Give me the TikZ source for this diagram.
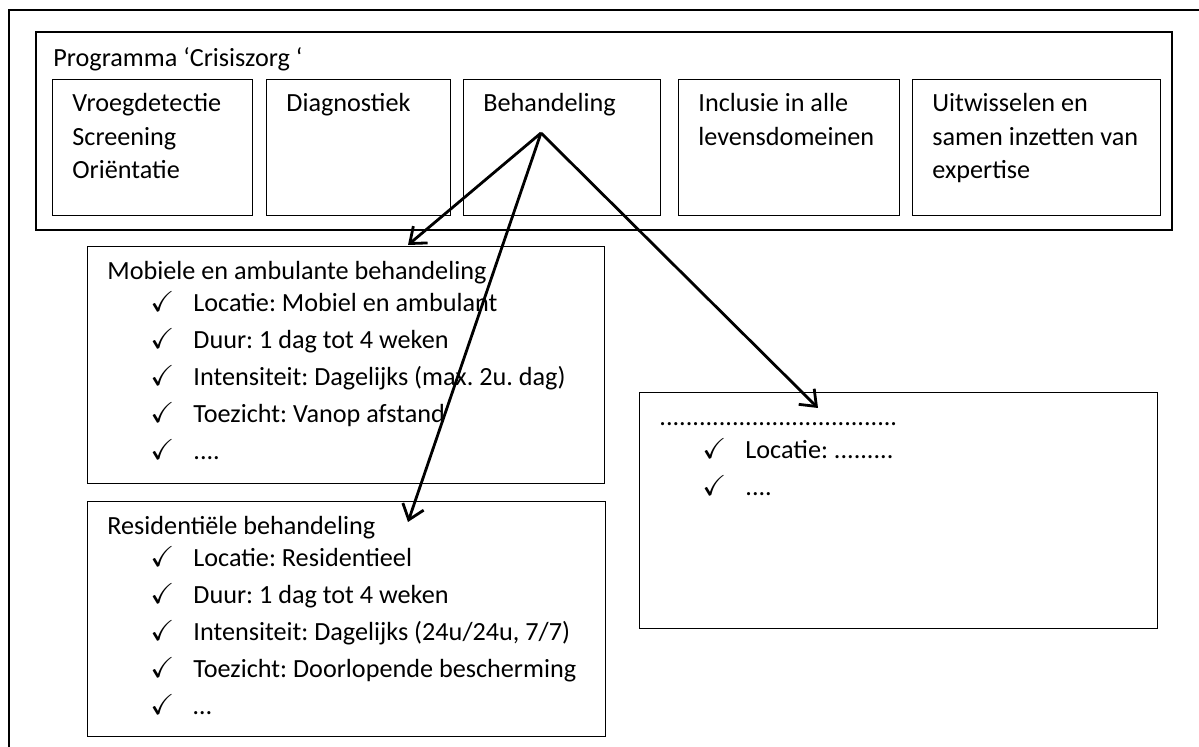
\documentclass[tikz,border=0pt]{standalone}
\usepackage{amssymb}
\usepackage{fontspec}
\setmainfont{Carlito}
\usepackage{tikz}
\usetikzlibrary{arrows.meta}
\frenchspacing

\newcommand{\boxfont}{\fontsize{13.1pt}{16.75pt}\selectfont}
\newcommand{\listfont}{\fontsize{13.1pt}{18.5pt}\selectfont}
\newcommand{\chk}{\makebox[21.5pt][l]{\scalebox{1.1}{$\checkmark$}}}

\begin{document}
\begin{tikzpicture}[x=0.5pt, y=-0.5pt,
    box/.style={draw, line width=0.65pt, anchor=north west, inner sep=0pt},
    txt/.style={anchor=base west, inner sep=0pt, align=left, font=\boxfont},
    conn/.style={-{Straight Barb[length=7pt,width=11pt]}, line width=1.4pt}]
    \useasboundingbox (0,0) rectangle (1199,747);

    % Outer frame (runs off the page)
    \draw[line width=1pt] (1199,10) -- (9,10) -- (9,747);

    % Programma box with title
    \node[box, line width=0.9pt, minimum width=568pt, minimum height=99pt] (prog) at (35,31) {};
    \node[txt] (prog-t) at (53,67) {Programma ‘Crisiszorg ‘};

    % Five boxes of the programma (text placed at the baseline of its last line)
    \foreach \n/\xa/\w/\yb/\txt in {vroeg/52/100/179/{Vroegdetectie\\Screening\\Oriëntatie},
        diag/266/92/112/{Diagnostiek}, behan/463/98.5/112/{Behandeling},
        incl/678/110.5/145.5/{Inclusie in alle\\levensdomeinen},
        uitw/912/124/179/{Uitwisselen en\\samen inzetten van\\expertise}} {
      \node[box, minimum width=\w pt, minimum height=68pt] (\n) at (\xa,79) {};
      \node[txt] (\n-t) at (\xa+20,\yb) {\txt};
    }

    % Behandeling boxes
    \node[box, minimum width=258.5pt, minimum height=118.5pt] (mob) at (87,246) {};
    \node[txt] (mob-t) at (107,280) {Mobiele en ambulante behandeling};
    \node[txt, font=\listfont] (mob-l) at (150,460) {\chk Locatie: Mobiel en ambulant\\
      \chk Duur: 1 dag tot 4 weken\\
      \chk Intensiteit: Dagelijks (max. 2u. dag)\\
      \chk Toezicht: Vanop afstand\\
      \chk ....};

    \node[box, minimum width=259pt, minimum height=117.5pt] (resi) at (87,501) {};
    \node[txt] (resi-t) at (107,535) {Residentiële behandeling};
    \node[txt, font=\listfont] (resi-l) at (150,715) {\chk Locatie: Residentieel\\
      \chk Duur: 1 dag tot 4 weken\\
      \chk Intensiteit: Dagelijks (24u/24u, 7/7)\\
      \chk Toezicht: Doorlopende bescherming\\
      \chk …};

    \node[box, minimum width=259pt, minimum height=118pt] (rest) at (639,392) {};
    \node[txt] (rest-t) at (659,426) {....................................};
    \node[txt, font=\listfont] (rest-l) at (702,496) {\chk Locatie: .........\\
      \chk ....};

    % Arrows out of Behandeling
    \coordinate (src) at (541,133);
    \coordinate (tipMob) at (408,245);
    \coordinate (tipRes) at (408,522);
    \coordinate (tipRest) at (818,408);
    \draw[conn] (src) -- (tipMob);
    \draw[conn] (src) -- (tipRes);
    \draw[conn] (src) -- (tipRest);

\end{tikzpicture}
\end{document}
